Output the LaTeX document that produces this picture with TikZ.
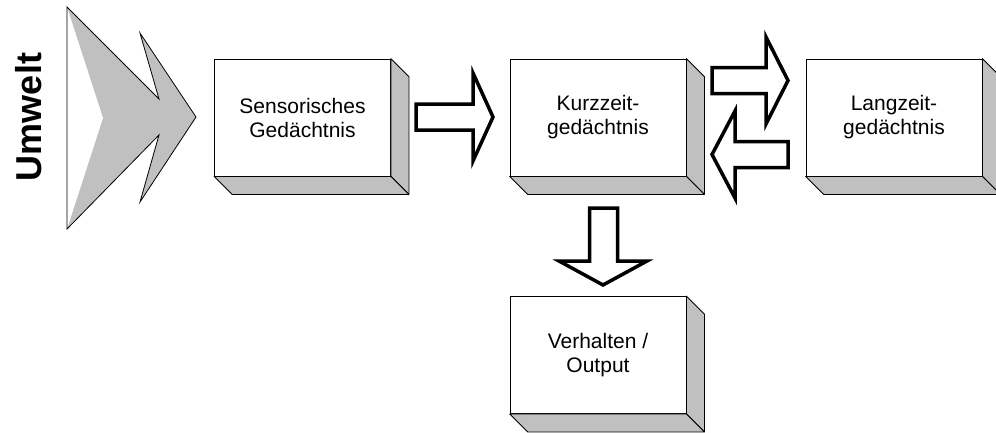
\documentclass[tikz,border=0pt]{standalone}
\usepackage{fontspec}
\setmainfont{Liberation Sans}
\usetikzlibrary{calc}
\definecolor{boxgray}{HTML}{C0C0C0}
\tikzset{
  membox/.style={draw, line width=0.8pt, fill=white, minimum width=176pt,
    minimum height=117pt, align=center, inner sep=0pt,
    font=\fontsize{21}{24}\selectfont},
  depthface/.style={draw, line width=0.8pt, fill=boxgray, line join=round},
  blockarrow/.style={draw, line width=3.5pt, fill=white, line join=miter},
  chevron/.style={fill=boxgray},
  chevronline/.style={draw, line width=0.8pt, line join=miter},
}
% side and bottom faces of a box seen in perspective
\newcommand{\depthfaces}[1]{%
  \path[depthface] (#1.north east) -- ++(18pt,-18pt)
    -- ($(#1.south east)+(18pt,-18pt)$) -- (#1.south east) -- cycle;
  \path[depthface] (#1.south west) -- ++(18pt,-18pt)
    -- ($(#1.south east)+(18pt,-18pt)$) -- (#1.south east) -- cycle;
}
\begin{document}
\begin{tikzpicture}[x=1pt,y=-1pt]
\useasboundingbox (0,0) rectangle (996,432);
\clip (0,0) rectangle (996,432);

% environment label and double chevron
\node[rotate=90, font=\bfseries\fontsize{36}{36}\selectfont] (umwelt) at (29,117) {Umwelt};
\path[chevron] (67,7) -- (159,99) -- (140,33) -- (196,117) -- (140,202)
  -- (159,135) -- (67,229) -- cycle;
\path[fill=white] (67,7) -- (103,118) -- (67,229) -- cycle;
\path[chevronline] (67,7) -- (159,99) -- (140,33) -- (196,117) -- (140,202)
  -- (159,135) -- (67,229) -- cycle;

% memory stores
\node[membox] (sens) at (302.5,117.5) {Sensorisches\\Gedächtnis};
\node[membox] (kzg)  at (598,117.5)   {Kurzzeit-\\gedächtnis};
\node[membox] (lzg)  at (894,117.5)   {Langzeit-\\gedächtnis};
\node[membox] (out)  at (598,355)     {Verhalten /\\Output};
\depthfaces{sens}
\depthfaces{kzg}
\depthfaces{lzg}
\depthfaces{out}

% block arrows between the stores
\path[blockarrow] (416,104) -- (473,104) -- (473,73) -- (493,117)
  -- (473,161) -- (473,130) -- (416,130) -- cycle;
\path[blockarrow] (712,67.5) -- (766,67.5) -- (766,37) -- (788,80.5)
  -- (766,124) -- (766,93.5) -- (712,93.5) -- cycle;
\path[blockarrow] (788,141.5) -- (735,141.5) -- (735,111) -- (712,154.5)
  -- (735,198) -- (735,167.5) -- (788,167.5) -- cycle;
\path[blockarrow] (589.5,208) -- (617.5,208) -- (617.5,261) -- (647,261)
  -- (603,285) -- (559,261) -- (589.5,261) -- cycle;
\end{tikzpicture}
\end{document}
